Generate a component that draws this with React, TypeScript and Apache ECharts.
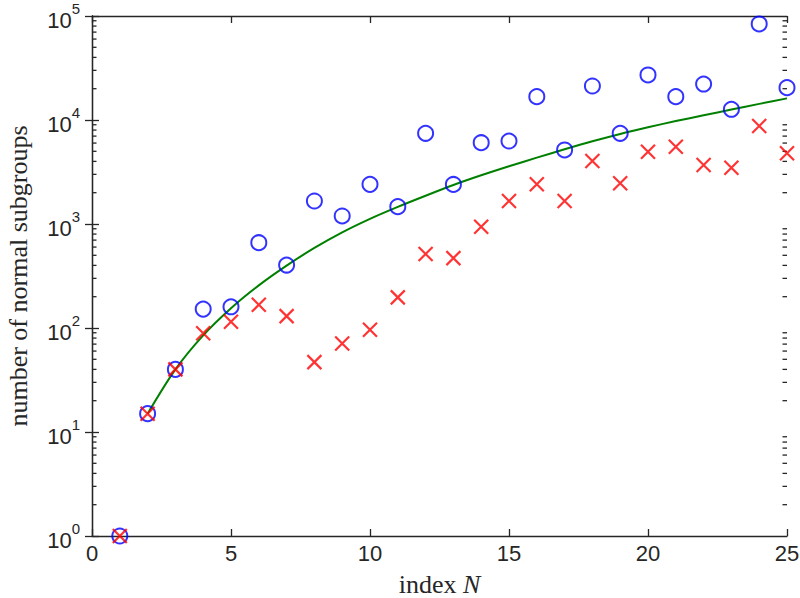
import React, { useEffect, useRef } from "react";
import * as echarts from "echarts";

const indices = [1, 2, 3, 4, 5, 6, 7, 8, 9, 10, 11, 12, 13, 14, 15, 16, 17, 18, 19, 20, 21, 22, 23, 24, 25];
const circleValues = [1, 15, 40, 152, 160, 661, 403, 1664, 1194, 2406, 1468, 7450, 2400, 6050, 6280, 16760, 5150, 21230, 7450, 27100, 16760, 22180, 12680, 83800, 20460];
const crossValues = [1, 15, 40, 89, 115, 167, 130, 47, 71, 96, 197, 515, 470, 942, 1664, 2406, 1664, 4036, 2462, 4955, 5535, 3690, 3475, 8755, 4786];
const fitIndices = [2, 3, 4, 5, 6, 7, 8, 9, 10, 11, 12, 13, 14, 15, 16, 17, 18, 19, 20, 21, 22, 23, 24, 25];
const fitValues = [15, 40, 85, 155, 257, 398, 589, 832, 1122, 1462, 1871, 2371, 2938, 3589, 4345, 5224, 6237, 7345, 8511, 9772, 11092, 12589, 14289, 16144];
const xRange = [0, 25];
const yDecades = [1, 10, 100, 1000, 10000, 100000];
const minorMultipliers = [2, 3, 4, 5, 6, 7, 8, 9];

const AXIS_COLOR = "#262626";

export default function App() {
  const ref = useRef<HTMLDivElement>(null);
  useEffect(() => {
    if (!ref.current) return;
    const chart = echarts.init(ref.current, null, { renderer: "svg" });
    const minorTicks: number[][] = [];
    yDecades.slice(0, -1).forEach((d) => minorMultipliers.forEach((m) => minorTicks.push([xRange[0], d * m])));

    const yLabel = {
      show: true,
      margin: 12,
      color: AXIS_COLOR,
      formatter: (v: number) => `{b|10}{s|${Math.round(Math.log10(v))}}`,
      rich: {
        b: { fontSize: 22, fontFamily: "Liberation Sans", lineHeight: 30, verticalAlign: "bottom", color: AXIS_COLOR },
        s: { fontSize: 15, fontFamily: "Liberation Sans", lineHeight: 15, verticalAlign: "top", color: AXIS_COLOR },
      },
    };

    const tickStyle = { color: AXIS_COLOR, width: 1.3 };

    const option: any = {
      animation: false,
      grid: { left: 92, right: 13, top: 16, bottom: 62, outerBoundsMode: "none", containLabel: false },
      xAxis: [
        {
          type: "value",
          min: xRange[0],
          max: xRange[1],
          interval: 5,
          position: "bottom",
          name: "index {i|N}",
          nameLocation: "middle",
          nameGap: 37,
          nameTextStyle: {
            fontFamily: "Liberation Serif",
            fontSize: 26,
            lineHeight: 22,
            color: AXIS_COLOR,
            rich: { i: { fontFamily: "Liberation Serif", fontStyle: "italic", fontSize: 26, lineHeight: 22, color: AXIS_COLOR } },
          },
          axisLine: { show: true, lineStyle: tickStyle },
          axisTick: { show: true, inside: true, length: 7, lineStyle: tickStyle },
          axisLabel: { show: true, margin: 6, fontSize: 22, fontFamily: "Liberation Sans", color: AXIS_COLOR, showMinLabel: true, showMaxLabel: true },
          splitLine: { show: false },
        },
        {
          type: "value",
          min: xRange[0],
          max: xRange[1],
          interval: 5,
          position: "top",
          axisLine: { show: true, lineStyle: tickStyle },
          axisTick: { show: true, inside: true, length: 7, lineStyle: tickStyle },
          axisLabel: { show: false },
          splitLine: { show: false },
        },
      ],
      yAxis: [
        {
          type: "log",
          logBase: 10,
          min: yDecades[0],
          max: yDecades[yDecades.length - 1],
          splitNumber: 5,
          position: "left",
          name: "number of normal subgroups",
          nameLocation: "middle",
          nameGap: 62,
          nameTextStyle: { fontFamily: "Liberation Serif", fontSize: 26, lineHeight: 24, color: AXIS_COLOR },
          axisLine: { show: true, lineStyle: tickStyle },
          axisTick: { show: true, inside: true, length: 7, lineStyle: tickStyle },
          axisLabel: yLabel,
          splitLine: { show: false },
        },
        {
          type: "log",
          logBase: 10,
          min: yDecades[0],
          max: yDecades[yDecades.length - 1],
          splitNumber: 5,
          position: "right",
          axisLine: { show: true, lineStyle: tickStyle },
          axisTick: { show: true, inside: true, length: 7, lineStyle: tickStyle },
          axisLabel: { show: false },
          splitLine: { show: false },
        },
      ],
      series: [
        {
          type: "custom",
          xAxisIndex: 0,
          yAxisIndex: 0,
          silent: true,
          clip: false,
          data: minorTicks,
          renderItem: (params: any, api: any) => {
            const v = api.value(1);
            const l = api.coord([xRange[0], v]);
            const r = api.coord([xRange[1], v]);
            const st = { stroke: AXIS_COLOR, lineWidth: 1.3 };
            return {
              type: "group",
              children: [
                { type: "line", shape: { x1: l[0], y1: l[1], x2: l[0] + 4.5, y2: l[1] }, style: st },
                { type: "line", shape: { x1: r[0], y1: r[1], x2: r[0] - 4.5, y2: r[1] }, style: st },
              ],
            };
          },
          z: 1,
        },
        {
          type: "line",
          data: fitIndices.map((x, i) => [x, fitValues[i]]),
          showSymbol: false,
          symbol: "none",
          smooth: 0.3,
          lineStyle: { color: "#008000", width: 2 },
          z: 2,
        },
        {
          type: "scatter",
          data: indices.map((x, i) => [x, circleValues[i]]),
          symbol: "circle",
          symbolSize: 15,
          itemStyle: { color: "transparent", borderColor: "#0000ff", borderWidth: 2 },
          z: 3,
        },
        {
          type: "scatter",
          data: indices.map((x, i) => [x, crossValues[i]]),
          symbol: "path://M0,0L10,10M10,0L0,10",
          symbolSize: 14,
          itemStyle: { color: "transparent", borderColor: "#ff0000", borderWidth: 2.2 },
          z: 4,
        },
      ],
    };
    chart.setOption(option);
    return () => chart.dispose();
  }, []);
  return <div ref={ref} style={{ width: 800, height: 598, position: "absolute", left: 0, top: 0 }} />;
}
